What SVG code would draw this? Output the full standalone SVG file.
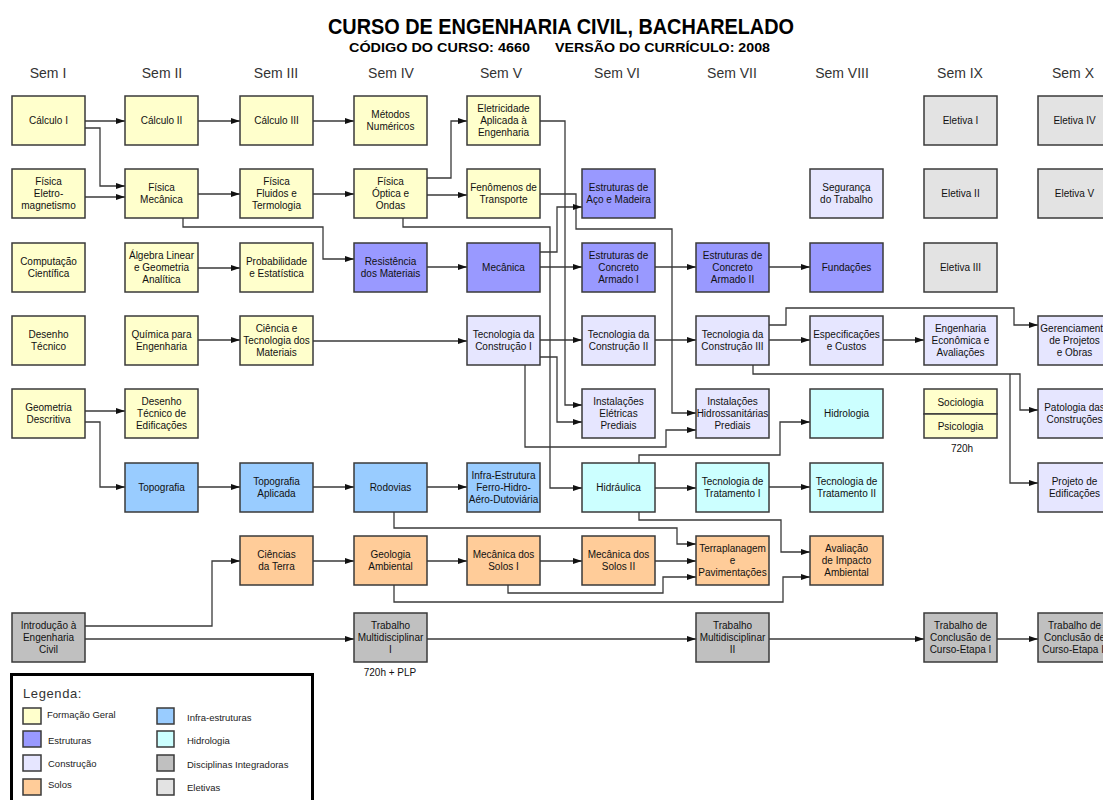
<svg xmlns="http://www.w3.org/2000/svg" width="1103" height="800" viewBox="0 0 1103 800">
<defs>
<style>
.b{stroke:#3a3a3a;stroke-width:1.5}
.fg{fill:#FFFFCC}.es{fill:#9999FF}.co{fill:#E6E6FF}.so{fill:#FFCC99}.in{fill:#99CCFF}.hi{fill:#CCFFFF}.di{fill:#C0C0C0}.el{fill:#E3E3E3}
.t{font-family:"Liberation Sans",Arial,sans-serif;font-size:10px;fill:#111;text-anchor:middle}
.h{font-family:"Liberation Sans",Arial,sans-serif;font-size:14px;fill:#333;text-anchor:middle}
.lg{font-family:"Liberation Sans",Arial,sans-serif;font-size:9.5px;fill:#222}
.c{fill:none;stroke:#3a3a3a;stroke-width:1.3}
.ca{fill:none;stroke:#3a3a3a;stroke-width:1.3;marker-end:url(#a)}
</style>
<marker id="a" markerWidth="10" markerHeight="8" refX="9" refY="4" orient="auto" markerUnits="userSpaceOnUse"><path d="M0,1 L9,4 L0,7 z" fill="#111"/></marker>
</defs>
<rect width="1103" height="800" fill="#fff"/>
<g id="title">
<text x="561" y="34" textLength="466" lengthAdjust="spacingAndGlyphs" style="font-family:'Liberation Sans',Arial,sans-serif;font-size:21.5px;font-weight:bold;text-anchor:middle">CURSO DE ENGENHARIA CIVIL, BACHARELADO</text>
<text x="349" y="51.5" textLength="181" lengthAdjust="spacingAndGlyphs" style="font-family:'Liberation Sans',Arial,sans-serif;font-size:13px;font-weight:bold">CÓDIGO DO CURSO: 4660</text>
<text x="555" y="51.5" textLength="215" lengthAdjust="spacingAndGlyphs" style="font-family:'Liberation Sans',Arial,sans-serif;font-size:13px;font-weight:bold">VERSÃO DO CURRÍCULO: 2008</text>
</g>
<g id="semesters">
<text class="h" x="48" y="78">Sem I</text>
<text class="h" x="162" y="78">Sem II</text>
<text class="h" x="276" y="78">Sem III</text>
<text class="h" x="391" y="78">Sem IV</text>
<text class="h" x="501" y="78">Sem V</text>
<text class="h" x="617" y="78">Sem VI</text>
<text class="h" x="732" y="78">Sem VII</text>
<text class="h" x="842" y="78">Sem VIII</text>
<text class="h" x="960" y="78">Sem IX</text>
<text class="h" x="1073" y="78">Sem X</text>
</g>
<g id="connectors">
<path class="ca" d="M85,121 H125"/>
<path class="ca" d="M85,128 H100 V186 H125"/>
<path class="ca" d="M85,197 H125"/>
<path class="ca" d="M198,121 H240"/>
<path class="ca" d="M198,194 H240"/>
<path class="ca" d="M313,121 H354"/>
<path class="ca" d="M313,194 H354"/>
<path class="ca" d="M183,218 V227 H323 V259 H354"/>
<path class="ca" d="M198,268 H240"/>
<path class="ca" d="M198,340 H240"/>
<path class="ca" d="M85,411 H125"/>
<path class="ca" d="M85,422 H100 V487 H125"/>
<path class="ca" d="M198,487 H240"/>
<path class="ca" d="M313,487 H354"/>
<path class="ca" d="M427,487 H467"/>
<path class="ca" d="M427,178 H451 V121 H467"/>
<path class="ca" d="M427,195 H467"/>
<path class="ca" d="M403,218 V227 H550 V488 H582"/>
<path class="ca" d="M427,267 H467"/>
<path class="ca" d="M313,341 H467"/>
<path class="ca" d="M540,121 H565 V405 H582"/>
<path class="ca" d="M540,194 H576 V229 H672 V413 H696"/>
<path class="ca" d="M540,252 H557 V207 H582"/>
<path class="ca" d="M540,267 H582"/>
<path class="ca" d="M540,340 H582"/>
<path class="ca" d="M540,357 H557 V422 H582"/>
<path class="ca" d="M525,365 V447 H666 V430 H696"/>
<path class="ca" d="M655,267 H696"/>
<path class="ca" d="M655,340 H696"/>
<path class="ca" d="M769,267 H810"/>
<path class="ca" d="M769,340 H810"/>
<path class="ca" d="M883,340 H924"/>
<path class="ca" d="M769,325 H786 V308 H1014 V325 H1038"/>
<path class="ca" d="M753,365 V374 H1020 V410 H1038"/>
<path class="ca" d="M1010,374 V483 H1038"/>
<path class="ca" d="M639,463 V455 H780 V422 H810"/>
<path class="ca" d="M655,488 H696"/>
<path class="ca" d="M769,487 H810"/>
<path class="ca" d="M394,512 V528 H677 V544 H696"/>
<path class="ca" d="M639,512 V520 H781 V552 H810"/>
<path class="ca" d="M313,561 H354"/>
<path class="ca" d="M427,561 H467"/>
<path class="ca" d="M540,561 H582"/>
<path class="ca" d="M655,561 H696"/>
<path class="ca" d="M508,585 V593 H663 V577 H696"/>
<path class="ca" d="M394,585 V602 H783 V577 H810"/>
<path class="ca" d="M85,626 H212 V561 H240"/>
<path class="ca" d="M85,639 H354"/>
<path class="ca" d="M427,639 H696"/>
<path class="ca" d="M769,639 H924"/>
<path class="ca" d="M997,639 H1038"/>
</g>
<g id="n-calculo1"><rect class="b fg" x="12" y="96" width="73" height="49"/><text class="t" x="48.5" y="124">Cálculo I</text></g>
<g id="n-fisica-eletro"><rect class="b fg" x="12" y="169" width="73" height="49"/><text class="t"><tspan x="48.5" y="185">Física</tspan><tspan x="48.5" y="197">Eletro-</tspan><tspan x="48.5" y="209">magnetismo</tspan></text></g>
<g id="n-computacao"><rect class="b fg" x="12" y="243" width="73" height="49"/><text class="t"><tspan x="48.5" y="265">Computação</tspan><tspan x="48.5" y="277">Científica</tspan></text></g>
<g id="n-desenho-tecnico"><rect class="b fg" x="12" y="316" width="73" height="49"/><text class="t"><tspan x="48.5" y="338">Desenho</tspan><tspan x="48.5" y="350">Técnico</tspan></text></g>
<g id="n-geometria"><rect class="b fg" x="12" y="389" width="73" height="49"/><text class="t"><tspan x="48.5" y="411">Geometria</tspan><tspan x="48.5" y="423">Descritiva</tspan></text></g>
<g id="n-introducao"><rect class="b di" x="12" y="613" width="73" height="49"/><text class="t"><tspan x="48.5" y="629">Introdução à</tspan><tspan x="48.5" y="641">Engenharia</tspan><tspan x="48.5" y="653">Civil</tspan></text></g>
<g id="n-calculo2"><rect class="b fg" x="125" y="96" width="73" height="49"/><text class="t" x="161.5" y="124">Cálculo II</text></g>
<g id="n-fisica-mecanica"><rect class="b fg" x="125" y="169" width="73" height="49"/><text class="t"><tspan x="161.5" y="191">Física</tspan><tspan x="161.5" y="203">Mecânica</tspan></text></g>
<g id="n-algebra"><rect class="b fg" x="125" y="243" width="73" height="49"/><text class="t"><tspan x="161.5" y="259">Álgebra Linear</tspan><tspan x="161.5" y="271">e Geometria</tspan><tspan x="161.5" y="283">Analítica</tspan></text></g>
<g id="n-quimica"><rect class="b fg" x="125" y="316" width="73" height="49"/><text class="t"><tspan x="161.5" y="338">Química para</tspan><tspan x="161.5" y="350">Engenharia</tspan></text></g>
<g id="n-desenho-edif"><rect class="b fg" x="125" y="389" width="73" height="49"/><text class="t"><tspan x="161.5" y="405">Desenho</tspan><tspan x="161.5" y="417">Técnico de</tspan><tspan x="161.5" y="429">Edificações</tspan></text></g>
<g id="n-topografia"><rect class="b in" x="125" y="463" width="73" height="49"/><text class="t" x="161.5" y="491">Topografia</text></g>
<g id="n-calculo3"><rect class="b fg" x="240" y="96" width="73" height="49"/><text class="t" x="276.5" y="124">Cálculo III</text></g>
<g id="n-fisica-fluidos"><rect class="b fg" x="240" y="169" width="73" height="49"/><text class="t"><tspan x="276.5" y="185">Física</tspan><tspan x="276.5" y="197">Fluidos e</tspan><tspan x="276.5" y="209">Termologia</tspan></text></g>
<g id="n-probabilidade"><rect class="b fg" x="240" y="243" width="73" height="49"/><text class="t"><tspan x="276.5" y="265">Probabilidade</tspan><tspan x="276.5" y="277">e Estatística</tspan></text></g>
<g id="n-ciencia-materiais"><rect class="b fg" x="240" y="316" width="73" height="49"/><text class="t"><tspan x="276.5" y="332">Ciência e</tspan><tspan x="276.5" y="344">Tecnologia dos</tspan><tspan x="276.5" y="356">Materiais</tspan></text></g>
<g id="n-topografia-aplicada"><rect class="b in" x="240" y="463" width="73" height="49"/><text class="t"><tspan x="276.5" y="485">Topografia</tspan><tspan x="276.5" y="497">Aplicada</tspan></text></g>
<g id="n-ciencias-terra"><rect class="b so" x="240" y="536" width="73" height="49"/><text class="t"><tspan x="276.5" y="558">Ciências</tspan><tspan x="276.5" y="570">da Terra</tspan></text></g>
<g id="n-metodos"><rect class="b fg" x="354" y="96" width="73" height="49"/><text class="t"><tspan x="390.5" y="118">Métodos</tspan><tspan x="390.5" y="130">Numéricos</tspan></text></g>
<g id="n-fisica-optica"><rect class="b fg" x="354" y="169" width="73" height="49"/><text class="t"><tspan x="390.5" y="185">Física</tspan><tspan x="390.5" y="197">Óptica e</tspan><tspan x="390.5" y="209">Ondas</tspan></text></g>
<g id="n-resistencia"><rect class="b es" x="354" y="243" width="73" height="49"/><text class="t"><tspan x="390.5" y="265">Resistência</tspan><tspan x="390.5" y="277">dos Materiais</tspan></text></g>
<g id="n-rodovias"><rect class="b in" x="354" y="463" width="73" height="49"/><text class="t" x="390.5" y="491">Rodovias</text></g>
<g id="n-geologia"><rect class="b so" x="354" y="536" width="73" height="49"/><text class="t"><tspan x="390.5" y="558">Geologia</tspan><tspan x="390.5" y="570">Ambiental</tspan></text></g>
<g id="n-tm1"><rect class="b di" x="354" y="613" width="73" height="49"/><text class="t"><tspan x="390.5" y="629">Trabalho</tspan><tspan x="390.5" y="641">Multidisciplinar</tspan><tspan x="390.5" y="653">I</tspan></text><text class="t" x="390" y="676">720h + PLP</text></g>
<g id="n-eletricidade"><rect class="b fg" x="467" y="96" width="73" height="49"/><text class="t"><tspan x="503.5" y="112">Eletricidade</tspan><tspan x="503.5" y="124">Aplicada à</tspan><tspan x="503.5" y="136">Engenharia</tspan></text></g>
<g id="n-fenomenos"><rect class="b fg" x="467" y="169" width="73" height="49"/><text class="t"><tspan x="503.5" y="191">Fenômenos de</tspan><tspan x="503.5" y="203">Transporte</tspan></text></g>
<g id="n-mecanica"><rect class="b es" x="467" y="243" width="73" height="49"/><text class="t" x="503.5" y="271">Mecânica</text></g>
<g id="n-tec-constr1"><rect class="b co" x="467" y="316" width="73" height="49"/><text class="t"><tspan x="503.5" y="338">Tecnologia da</tspan><tspan x="503.5" y="350">Construção I</tspan></text></g>
<g id="n-infra"><rect class="b in" x="467" y="463" width="73" height="49"/><text class="t"><tspan x="503.5" y="479">Infra-Estrutura</tspan><tspan x="503.5" y="491">Ferro-Hidro-</tspan><tspan x="503.5" y="503">Aéro-Dutoviária</tspan></text></g>
<g id="n-mec-solos1"><rect class="b so" x="467" y="536" width="73" height="49"/><text class="t"><tspan x="503.5" y="558">Mecânica dos</tspan><tspan x="503.5" y="570">Solos I</tspan></text></g>
<g id="n-aco-madeira"><rect class="b es" x="582" y="169" width="73" height="49"/><text class="t"><tspan x="618.5" y="191">Estruturas de</tspan><tspan x="618.5" y="203">Aço e Madeira</tspan></text></g>
<g id="n-concreto1"><rect class="b es" x="582" y="243" width="73" height="49"/><text class="t"><tspan x="618.5" y="259">Estruturas de</tspan><tspan x="618.5" y="271">Concreto</tspan><tspan x="618.5" y="283">Armado I</tspan></text></g>
<g id="n-tec-constr2"><rect class="b co" x="582" y="316" width="73" height="49"/><text class="t"><tspan x="618.5" y="338">Tecnologia da</tspan><tspan x="618.5" y="350">Construção II</tspan></text></g>
<g id="n-inst-eletricas"><rect class="b co" x="582" y="389" width="73" height="49"/><text class="t"><tspan x="618.5" y="405">Instalações</tspan><tspan x="618.5" y="417">Elétricas</tspan><tspan x="618.5" y="429">Prediais</tspan></text></g>
<g id="n-hidraulica"><rect class="b hi" x="582" y="463" width="73" height="49"/><text class="t" x="618.5" y="491">Hidráulica</text></g>
<g id="n-mec-solos2"><rect class="b so" x="582" y="536" width="73" height="49"/><text class="t"><tspan x="618.5" y="558">Mecânica dos</tspan><tspan x="618.5" y="570">Solos II</tspan></text></g>
<g id="n-concreto2"><rect class="b es" x="696" y="243" width="73" height="49"/><text class="t"><tspan x="732.5" y="259">Estruturas de</tspan><tspan x="732.5" y="271">Concreto</tspan><tspan x="732.5" y="283">Armado II</tspan></text></g>
<g id="n-tec-constr3"><rect class="b co" x="696" y="316" width="73" height="49"/><text class="t"><tspan x="732.5" y="338">Tecnologia da</tspan><tspan x="732.5" y="350">Construção III</tspan></text></g>
<g id="n-inst-hidro"><rect class="b co" x="696" y="389" width="73" height="49"/><text class="t"><tspan x="732.5" y="405">Instalações</tspan><tspan x="732.5" y="417">Hidrossanitárias</tspan><tspan x="732.5" y="429">Prediais</tspan></text></g>
<g id="n-tratamento1"><rect class="b hi" x="696" y="463" width="73" height="49"/><text class="t"><tspan x="732.5" y="485">Tecnologia de</tspan><tspan x="732.5" y="497">Tratamento I</tspan></text></g>
<g id="n-terraplanagem"><rect class="b so" x="696" y="536" width="73" height="49"/><text class="t"><tspan x="732.5" y="552">Terraplanagem</tspan><tspan x="732.5" y="564">e</tspan><tspan x="732.5" y="576">Pavimentações</tspan></text></g>
<g id="n-tm2"><rect class="b di" x="696" y="613" width="73" height="49"/><text class="t"><tspan x="732.5" y="629">Trabalho</tspan><tspan x="732.5" y="641">Multidisciplinar</tspan><tspan x="732.5" y="653">II</tspan></text></g>
<g id="n-seguranca"><rect class="b co" x="810" y="169" width="73" height="49"/><text class="t"><tspan x="846.5" y="191">Segurança</tspan><tspan x="846.5" y="203">do Trabalho</tspan></text></g>
<g id="n-fundacoes"><rect class="b es" x="810" y="243" width="73" height="49"/><text class="t" x="846.5" y="271">Fundações</text></g>
<g id="n-especificacoes"><rect class="b co" x="810" y="316" width="73" height="49"/><text class="t"><tspan x="846.5" y="338">Especificações</tspan><tspan x="846.5" y="350">e Custos</tspan></text></g>
<g id="n-hidrologia"><rect class="b hi" x="810" y="389" width="73" height="49"/><text class="t" x="846.5" y="417">Hidrologia</text></g>
<g id="n-tratamento2"><rect class="b hi" x="810" y="463" width="73" height="49"/><text class="t"><tspan x="846.5" y="485">Tecnologia de</tspan><tspan x="846.5" y="497">Tratamento II</tspan></text></g>
<g id="n-avaliacao"><rect class="b so" x="810" y="536" width="73" height="49"/><text class="t"><tspan x="846.5" y="552">Avaliação</tspan><tspan x="846.5" y="564">de Impacto</tspan><tspan x="846.5" y="576">Ambiental</tspan></text></g>
<g id="n-eletiva1"><rect class="b el" x="924" y="96" width="73" height="49"/><text class="t" x="960.5" y="124">Eletiva I</text></g>
<g id="n-eletiva2"><rect class="b el" x="924" y="169" width="73" height="49"/><text class="t" x="960.5" y="197">Eletiva II</text></g>
<g id="n-eletiva3"><rect class="b el" x="924" y="243" width="73" height="49"/><text class="t" x="960.5" y="271">Eletiva III</text></g>
<g id="n-eng-economica"><rect class="b co" x="924" y="316" width="73" height="49"/><text class="t"><tspan x="960.5" y="332">Engenharia</tspan><tspan x="960.5" y="344">Econômica e</tspan><tspan x="960.5" y="356">Avaliações</tspan></text></g>
<g id="n-socio-psico"><rect class="b fg" x="924" y="389" width="73" height="25"/><rect class="b fg" x="924" y="414" width="73" height="24"/><text class="t" x="960.5" y="405.5">Sociologia</text><text class="t" x="960.5" y="429.5">Psicologia</text><text class="t" x="962" y="452">720h</text></g>
<g id="n-tcc1"><rect class="b di" x="924" y="613" width="73" height="49"/><text class="t"><tspan x="960.5" y="629">Trabalho de</tspan><tspan x="960.5" y="641">Conclusão de</tspan><tspan x="960.5" y="653">Curso-Etapa I</tspan></text></g>
<g id="n-eletiva4"><rect class="b el" x="1038" y="96" width="73" height="49"/><text class="t" x="1074.5" y="124">Eletiva IV</text></g>
<g id="n-eletiva5"><rect class="b el" x="1038" y="169" width="73" height="49"/><text class="t" x="1074.5" y="197">Eletiva V</text></g>
<g id="n-gerenciamento"><rect class="b co" x="1038" y="316" width="73" height="49"/><text class="t"><tspan x="1074.5" y="332">Gerenciamento</tspan><tspan x="1074.5" y="344">de Projetos</tspan><tspan x="1074.5" y="356">e Obras</tspan></text></g>
<g id="n-patologia"><rect class="b co" x="1038" y="389" width="73" height="49"/><text class="t"><tspan x="1074.5" y="411">Patologia das</tspan><tspan x="1074.5" y="423">Construções</tspan></text></g>
<g id="n-projeto-edif"><rect class="b co" x="1038" y="463" width="73" height="49"/><text class="t"><tspan x="1074.5" y="485">Projeto de</tspan><tspan x="1074.5" y="497">Edificações</tspan></text></g>
<g id="n-tcc2"><rect class="b di" x="1038" y="613" width="73" height="49"/><text class="t"><tspan x="1074.5" y="629">Trabalho de</tspan><tspan x="1074.5" y="641">Conclusão de</tspan><tspan x="1074.5" y="653">Curso-Etapa II</tspan></text></g>
<g id="legend">
<rect x="11.5" y="674.5" width="301" height="140" fill="#fff" stroke="#000" stroke-width="3"/>
<text x="23" y="698" style="font-family:'Liberation Sans',Arial,sans-serif;font-size:13px;fill:#333;letter-spacing:0.6px">Legenda:</text>
<rect class="b fg" x="23" y="708" width="18" height="16"/><text class="lg" x="47" y="718">Formação Geral</text>
<rect class="b es" x="23" y="731" width="18" height="16"/><text class="lg" x="48" y="744">Estruturas</text>
<rect class="b co" x="23" y="755" width="18" height="16"/><text class="lg" x="48" y="767">Construção</text>
<rect class="b so" x="23" y="779" width="18" height="16"/><text class="lg" x="48" y="788">Solos</text>
<rect class="b in" x="157" y="708" width="17" height="16"/><text class="lg" x="187" y="721">Infra-estruturas</text>
<rect class="b hi" x="157" y="731" width="17" height="16"/><text class="lg" x="187" y="744">Hidrologia</text>
<rect class="b di" x="157" y="755" width="17" height="16"/><text class="lg" x="187" y="768">Disciplinas Integradoras</text>
<rect class="b el" x="157" y="779" width="17" height="16"/><text class="lg" x="187" y="791">Eletivas</text>
</g>
</svg>
